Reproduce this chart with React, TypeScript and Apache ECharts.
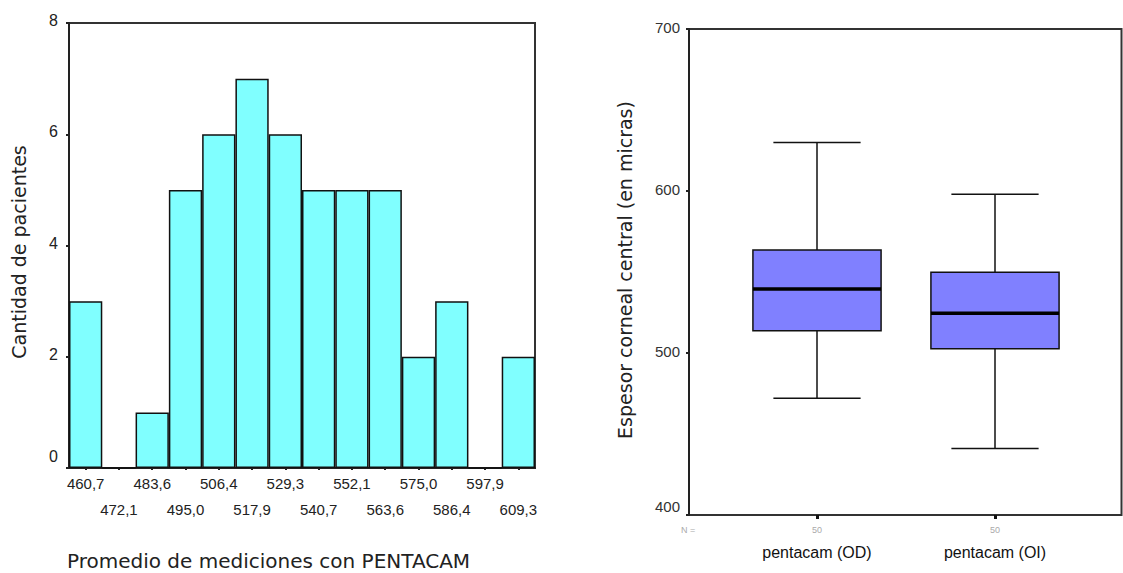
import React, { useEffect, useRef } from "react";
import * as echarts from "echarts";

const binLabels = ["460,7", "472,1", "483,6", "495,0", "506,4", "517,9", "529,3", "540,7", "552,1", "563,6", "575,0", "586,4", "597,9", "609,3"];
const binCounts = [3, 0, 1, 5, 6, 7, 6, 5, 5, 5, 2, 3, 0, 2];
const histYTicks = { min: 0, max: 8, interval: 2 };

const boxCategories = ["pentacam (OD)", "pentacam (OI)"];
const boxN = [50, 50];
// [index, min, Q1, median, Q3, max]
const boxStats = [
  [0, 472, 513.8, 539.5, 563.6, 630],
  [1, 441, 502.7, 524.5, 549.8, 598],
];
const boxYTicks = { min: 400, max: 700, interval: 100 };

const FONT = "'Liberation Sans', Arial, sans-serif";
const WIDE = "'DejaVu Sans', Verdana, sans-serif";

export default function App() {
  const ref = useRef<HTMLDivElement>(null);
  useEffect(() => {
    if (!ref.current) return;
    const chart = echarts.init(ref.current, undefined, { renderer: "svg" });
    const option: any = {
      animation: false,
      backgroundColor: "#ffffff",
      textStyle: { fontFamily: FONT },
      grid: [
        { left: 69, right: 588, top: 23, bottom: 105, show: true, borderColor: "#333", borderWidth: 2, backgroundColor: "transparent" },
        { left: 728, right: 39, top: 29, bottom: 58, show: false },
        { left: 689, right: 1.5, top: 29, bottom: 58, show: true, borderColor: "#333", borderWidth: 2, backgroundColor: "transparent" },
      ],
      xAxis: [
        {
          type: "category",
          gridIndex: 0,
          data: binLabels,
          axisLine: { show: true, lineStyle: { color: "#222", width: 2 } },
          axisTick: { show: true, alignWithLabel: true, interval: 0, length: 2, lineStyle: { color: "#222", width: 2 } },
          axisLabel: {
            interval: 0,
            margin: 2,
            fontSize: 15,
            color: "#222",
            lineHeight: 26,
            fontFamily: FONT,
            formatter: (v: string, i: number) => (i % 2 === 1 ? "\n" + v : v),
          },
        },
        {
          type: "category",
          gridIndex: 1,
          data: boxCategories,
          axisLine: { show: false },
          axisTick: { show: true, alignWithLabel: true, length: 4, lineStyle: { color: "#111", width: 3 } },
          axisLabel: {
            interval: 0,
            margin: 5,
            formatter: (v: string, i: number) => `{n|${boxN[i]}}\n{c|${v}}`,
            rich: {
              n: { fontSize: 9, color: "#aaaaaa", lineHeight: 20, fontFamily: FONT },
              c: { fontSize: 16, color: "#111", lineHeight: 24, fontFamily: FONT },
            },
          },
        },
        { type: "value", gridIndex: 2, show: false, min: 0, max: 1 },
      ],
      yAxis: [
        {
          type: "value",
          gridIndex: 0,
          ...histYTicks,
          splitLine: { show: false },
          axisLine: { show: true, lineStyle: { color: "#222", width: 2 } },
          axisTick: { show: true, length: 3, lineStyle: { color: "#222", width: 2 } },
          axisLabel: {
            margin: 11,
            formatter: (v: number) => (v === histYTicks.min ? `{lift|${v}}` : `{n|${v}}`),
            rich: {
              n: { fontSize: 16, color: "#222", fontFamily: FONT, padding: [0, 0, 5, 0] },
              lift: { fontSize: 16, color: "#222", fontFamily: FONT, padding: [0, 0, 24, 0] },
            },
          },
        },
        {
          type: "value",
          gridIndex: 1,
          offset: 39,
          ...boxYTicks,
          splitLine: { show: false },
          axisLine: { show: true, lineStyle: { color: "#222", width: 2 } },
          axisTick: { show: true, length: 3, lineStyle: { color: "#222", width: 2 } },
          axisLabel: {
            margin: 9,
            formatter: (v: number) => (v === boxYTicks.min ? `{lift|${v}}` : `{n|${v}}`),
            rich: {
              n: { fontSize: 15, color: "#333", fontFamily: FONT, padding: [0, 0, 3, 0] },
              lift: { fontSize: 15, color: "#333", fontFamily: FONT, padding: [0, 0, 18, 0] },
            },
          },
        },
        { type: "value", gridIndex: 2, show: false, min: 0, max: 1 },
      ],
      series: [
        {
          type: "bar",
          xAxisIndex: 0,
          yAxisIndex: 0,
          data: binCounts,
          barCategoryGap: 0,
          itemStyle: { color: "#80ffff", borderColor: "#111", borderWidth: 1.5 },
        },
        {
          type: "custom",
          xAxisIndex: 1,
          yAxisIndex: 1,
          data: boxStats,
          encode: { x: 0, y: [1, 2, 3, 4, 5] },
          renderItem: (params: any, api: any) => {
            const idx = api.value(0);
            const band = api.size([1, 0])[0];
            const boxHalf = band * 0.36;
            const capHalf = band * 0.245;
            const pMin = api.coord([idx, api.value(1)]);
            const pQ1 = api.coord([idx, api.value(2)]);
            const pMed = api.coord([idx, api.value(3)]);
            const pQ3 = api.coord([idx, api.value(4)]);
            const pMax = api.coord([idx, api.value(5)]);
            const cx = pMed[0];
            const lineStyle = { stroke: "#111", lineWidth: 1.5 };
            return {
              type: "group",
              children: [
                { type: "line", shape: { x1: cx, y1: pQ3[1], x2: cx, y2: pMax[1] }, style: lineStyle },
                { type: "line", shape: { x1: cx, y1: pQ1[1], x2: cx, y2: pMin[1] }, style: lineStyle },
                { type: "line", shape: { x1: cx - capHalf, y1: pMax[1], x2: cx + capHalf, y2: pMax[1] }, style: lineStyle },
                { type: "line", shape: { x1: cx - capHalf, y1: pMin[1], x2: cx + capHalf, y2: pMin[1] }, style: lineStyle },
                {
                  type: "rect",
                  shape: { x: cx - boxHalf, y: pQ3[1], width: boxHalf * 2, height: pQ1[1] - pQ3[1] },
                  style: { fill: "#8080ff", stroke: "#111", lineWidth: 1.5 },
                },
                { type: "line", shape: { x1: cx - boxHalf, y1: pMed[1], x2: cx + boxHalf, y2: pMed[1] }, style: { stroke: "#000", lineWidth: 3.5 } },
              ],
            };
          },
        },
      ],
      graphic: [
        {
          type: "text",
          x: 19,
          y: 252,
          rotation: Math.PI / 2,
          style: { text: "Cantidad de pacientes", fontSize: 19, fill: "#222", fontFamily: WIDE, align: "center", verticalAlign: "middle" },
        },
        {
          type: "text",
          x: 67,
          y: 561,
          style: { text: "Promedio de mediciones con PENTACAM", fontSize: 20, fill: "#222", fontFamily: WIDE, align: "left", verticalAlign: "middle" },
        },
        {
          type: "text",
          x: 625,
          y: 270,
          rotation: Math.PI / 2,
          style: { text: "Espesor corneal central (en micras)", fontSize: 19, fill: "#222", fontFamily: WIDE, align: "center", verticalAlign: "middle" },
        },
        {
          type: "text",
          x: 688,
          y: 530,
          style: { text: "N =", fontSize: 9, fill: "#aaaaaa", fontFamily: FONT, align: "center", verticalAlign: "middle" },
        },
      ],
    };
    chart.setOption(option);
    return () => chart.dispose();
  }, []);
  return <div ref={ref} style={{ width: 1123, height: 573, position: "absolute", left: 0, top: 0 }} />;
}
